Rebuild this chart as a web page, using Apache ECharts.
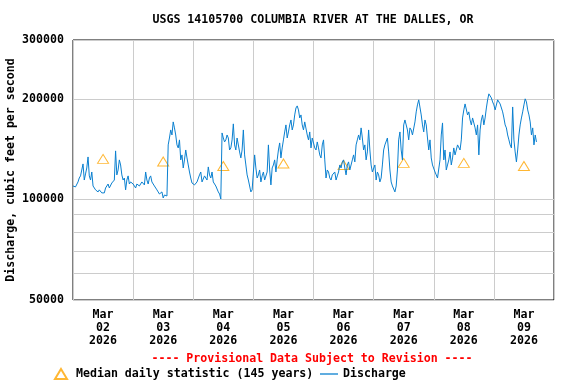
<!DOCTYPE html>
<html><head><meta charset="utf-8">
<script src="https://cdn.jsdelivr.net/npm/echarts@6/dist/echarts.min.js"></script>
<style>html,body{margin:0;padding:0;background:#fff}#c{width:576px;height:384px}</style>
</head><body><div id="c"></div><script>
const chartTitle = 'USGS 14105700 COLUMBIA RIVER AT THE DALLES, OR';
const provisionalNote = '---- Provisional Data Subject to Revision ----';
const yAxisName = 'Discharge, cubic feet per second';
const medianName = 'Median daily statistic (145 years)';
const dischargeName = 'Discharge';
// x axis in hours since 2026-03-02 00:00
const dayLabels = ['Mar\n02\n2026','Mar\n03\n2026','Mar\n04\n2026','Mar\n05\n2026','Mar\n06\n2026','Mar\n07\n2026','Mar\n08\n2026','Mar\n09\n2026'];
const dayLabelHours = [12,36,60,84,108,132,156,180];
const dayGridHours = [0,24,48,72,96,120,144,168,192];
const yLabelValues = [50000,100000,200000,300000];
const yGridValues = [50000,60000,70000,80000,90000,100000,200000,300000];
const medianHours = [12,36,60,84,108,132,156,180];
const medianCfs = [132200,129900,125900,128100,126800,128600,128600,125900];
const stepHours = 0.5;
const dischargeCfs = [
 // Mar 02
 109700,108200,109000,110500,112800,115900,117600,122500,127700,114300,119200,124200,134000,117600,114300,120800,
 109700,111200,106800,108200,105300,106800,107500,104600,106000,104600,108200,106800,111200,108200,106800,112000,
 110500,114300,139700,118400,122500,131300,126800,118400,114300,115900,106800,114300,117600,111200,112800,114300,
 // Mar 03
 111200,109700,108200,111200,112000,109700,109700,112800,112800,110500,120800,114300,111200,115900,117600,112800,
 112800,109700,108200,106800,105300,103800,103100,105300,101000,103100,103800,102400,145600,152700,161400,155900,
 170600,163700,155900,145600,142600,150700,131300,135900,124200,131300,140600,133100,126800,120800,115900,112000,
 // Mar 04
 112800,110500,110500,112800,114300,118400,120800,112800,114300,117600,117600,114300,125100,118400,115900,120800,
 112800,114300,109700,108200,105300,103800,100300,158100,152700,148600,150700,155900,152700,140600,142600,150700,
 168300,145600,140600,152700,150700,138700,133100,140600,161400,135900,126800,118400,114300,109700,105300,106800,
 // Mar 05
 106800,135900,124200,115900,118400,122500,112800,117600,120800,114300,114300,120800,145600,122500,110500,124200,
 126800,131300,120800,131300,140600,147600,133100,142600,150700,159200,167100,152700,159200,167100,172900,161400,
 167100,179000,187800,190500,185300,175300,179000,167100,161400,170600,172900,155900,150700,159200,142600,152700,
 // Mar 06
 150700,142600,140600,148600,142600,135900,133100,145600,150700,131300,115900,122500,120800,115900,114300,118400,
 117600,120800,114300,117600,120800,126800,124200,129500,131300,124200,118400,126800,129500,122500,124200,131300,
 135900,129500,145600,150700,155900,150700,163700,152700,140600,145600,131300,138700,161400,140600,126800,120800,
 // Mar 07
 120800,126800,114300,120800,118400,112800,115900,126800,140600,145600,145600,152700,138700,122500,112800,109700,
 108200,105300,109700,122500,150700,159200,140600,131300,167100,172900,172900,161400,150700,163700,161400,155900,
 155900,170600,182800,191800,198600,200000,179000,167100,159200,172900,167100,152700,140600,150700,133100,126800,
 // Mar 08
 126800,120800,118400,115900,115900,131300,155900,169400,131300,140600,122500,126800,131300,138700,126800,133100,
 142600,135900,135900,145600,145600,140600,150700,175300,185300,193100,191800,179000,182800,172900,167100,175300,
 175300,163700,155900,167100,135900,161400,172900,179000,167100,175300,187800,198600,207000,209800,201300,195800,
 // Mar 09
 191800,185300,187800,198600,198600,193100,193100,182800,175300,167100,163700,155900,150700,145600,142600,189100,
 150700,138700,129500,140600,155900,167100,175300,182800,191800,200000,195800,185300,179000,170600,155900,163700,
 145600,155900,148600
];
const FONT = 'DejaVu Sans Mono';
const txt = {fontFamily: FONT, fontWeight: 'bold', fontSize: 11.6, color: '#000'};
const lineColor = '#0a80d0';
const medColor = '#ffa500';

const chart = echarts.init(document.getElementById('c'), null, {renderer: 'canvas'});
chart.setOption({
  animation: false,
  backgroundColor: '#fff',
  title: [
    {text: chartTitle, left: 313, top: 14, textAlign: 'center', padding: 0, textStyle: Object.assign({}, txt)},
    {text: provisionalNote, left: 312, top: 353, textAlign: 'center', padding: 0, textStyle: Object.assign({}, txt, {color: '#ff0000'})}
  ],
  legend: [
    {data: [medianName], left: 54, top: 368, padding: 0, itemWidth: 12, itemHeight: 10, itemGap: 0, textStyle: Object.assign({}, txt, {padding: [0,0,0,4]})},
    {data: [{name: dischargeName, icon: 'rect'}], left: 320, top: 368, padding: 0, itemWidth: 18, itemHeight: 1.3, itemGap: 0,
     itemStyle: {color: lineColor, borderWidth: 0}, textStyle: Object.assign({}, txt)}
  ],
  grid: {left: 73, right: 22, top: 40, bottom: 84, show: true, borderColor: '#000', borderWidth: 1, containLabel: false, outerBoundsMode: 'none'},
  xAxis: {
    type: 'value', min: 0, max: 192,
    axisLine: {show: false},
    axisTick: {show: false, customValues: dayGridHours},
    splitLine: {show: true, lineStyle: {color: '#cccccc', width: 1}},
    axisLabel: {customValues: dayLabelHours, margin: 8, lineHeight: 13, fontFamily: FONT, fontWeight: 'bold', fontSize: 11.6, color: '#000',
      formatter: v => dayLabels[dayLabelHours.indexOf(Math.round(v))] || ''}
  },
  yAxis: {
    type: 'log', logBase: 10, min: 50000, max: 300000,
    name: yAxisName, nameLocation: 'middle', nameRotate: 90, nameGap: 56, nameMoveOverlap: false,
    nameTextStyle: Object.assign({}, txt),
    axisLine: {show: false},
    axisTick: {show: false, customValues: yGridValues},
    splitLine: {show: true, lineStyle: {color: '#cccccc', width: 1}},
    axisLabel: {customValues: yLabelValues, margin: 9, fontFamily: FONT, fontWeight: 'bold', fontSize: 11.6, color: '#000',
      formatter: v => String(Math.round(v))}
  },
  series: [
    {name: medianName, type: 'scatter', symbol: 'triangle', symbolSize: [11, 9], z: 2,
     itemStyle: {color: 'rgba(255,255,255,0)', borderColor: medColor, borderWidth: 1},
     data: medianHours.map((h, i) => [h, medianCfs[i]])},
    {name: dischargeName, type: 'line', symbol: 'none', showSymbol: false, z: 3,
     lineStyle: {color: lineColor, width: 1}, itemStyle: {color: lineColor},
     data: dischargeCfs.map((v, i) => [i * stepHours, v])}
  ]
});
</script></body></html>
